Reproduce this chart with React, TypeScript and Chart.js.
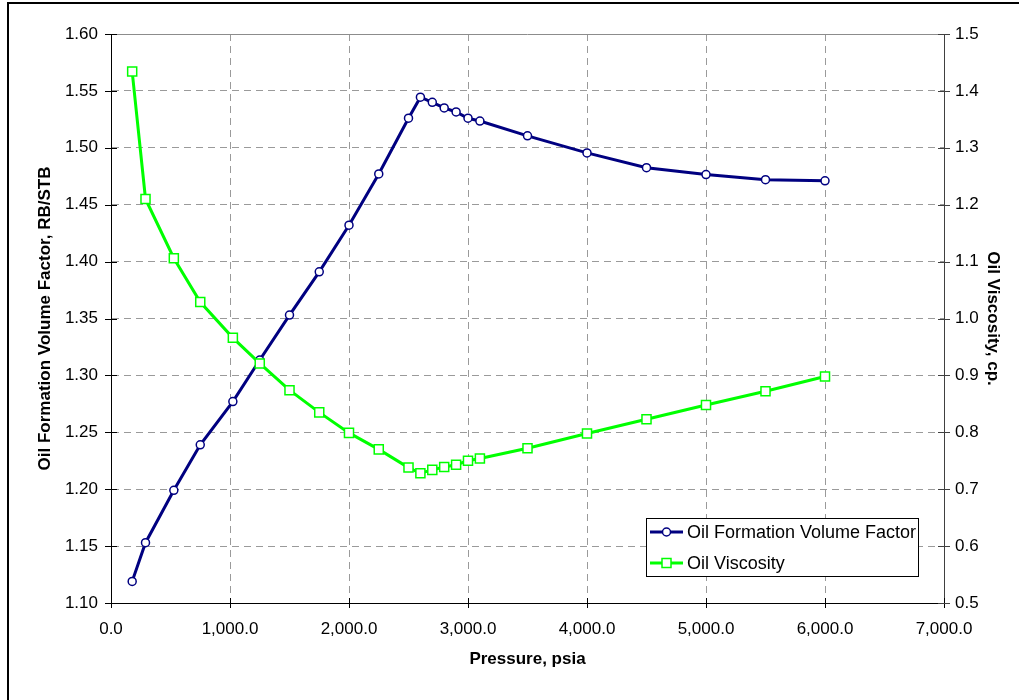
import React, { useEffect, useRef } from 'react';
import { Chart, registerables } from 'chart.js';

Chart.register(...registerables);

// ---- Data ----
const pressure = [178, 290, 528, 750, 1024, 1250, 1500, 1750, 2000, 2250, 2500, 2600, 2700, 2800, 2900, 3000, 3100, 3500, 4000, 4500, 5000, 5500, 6000];
const oilFVF = [1.119, 1.153, 1.199, 1.239, 1.277, 1.3135, 1.353, 1.391, 1.432, 1.477, 1.526, 1.5445, 1.540, 1.535, 1.5315, 1.526, 1.5235, 1.5105, 1.4955, 1.4825, 1.4765, 1.472, 1.471];
const oilViscosity = [1.434, 1.210, 1.106, 1.029, 0.966, 0.921, 0.874, 0.835, 0.799, 0.770, 0.738, 0.728, 0.734, 0.739, 0.743, 0.750, 0.754, 0.772, 0.798, 0.823, 0.848, 0.872, 0.898];
const seriesLabels = ['Oil Formation Volume Factor', 'Oil Viscosity'];
const xTitle = 'Pressure, psia';
const yLeftTitle = 'Oil Formation Volume Factor, RB/STB';
const yRightTitle = 'Oil Viscosity, cp.';
const xRange = [0, 7000, 1000];
const yLeftRange = [1.1, 1.6, 0.05];
const yRightRange = [0.5, 1.5, 0.1];

const FONT = '"Liberation Sans", Arial, Helvetica, sans-serif';
const NAVY = '#000080';
const GREEN = '#00FF00';

const framePlugin = {
  id: 'frame',
  beforeDraw(chart: any) {
    const ctx = chart.ctx;
    ctx.save();
    ctx.fillStyle = '#ffffff';
    ctx.fillRect(0, 0, chart.width, chart.height);
    ctx.fillStyle = '#000000';
    ctx.fillRect(7, 2, 2, chart.height - 2);
    ctx.fillRect(7, 2, chart.width - 7, 2);
    ctx.restore();
  },
  afterDatasetsDraw(chart: any) {
    const { ctx, chartArea: a, scales } = chart;
    ctx.save();
    ctx.setLineDash([]);
    // top border of plot area
    ctx.strokeStyle = '#8c8c8c';
    ctx.lineWidth = 1;
    ctx.beginPath();
    ctx.moveTo(a.left, Math.round(a.top) + 0.5);
    ctx.lineTo(a.right, Math.round(a.top) + 0.5);
    ctx.stroke();
    // crossing tick marks
    const tick = (x1: number, y1: number, x2: number, y2: number, color: string) => {
      ctx.strokeStyle = color;
      ctx.beginPath();
      ctx.moveTo(x1, y1);
      ctx.lineTo(x2, y2);
      ctx.stroke();
    };
    const xs = scales.x, yl = scales.y, yr = scales.y1;
    xs.ticks.forEach((t: any) => {
      const px = Math.round(xs.getPixelForValue(t.value)) + 0.5;
      tick(px, a.bottom - 5, px, a.bottom + 5, '#000000');
    });
    yl.ticks.forEach((t: any) => {
      const py = Math.round(yl.getPixelForValue(t.value)) + 0.5;
      tick(a.left - 6, py, a.left + 6, py, '#000000');
    });
    yr.ticks.forEach((t: any) => {
      const py = Math.round(yr.getPixelForValue(t.value)) + 0.5;
      tick(a.right - 6, py, a.right + 6, py, '#404040');
    });
    ctx.restore();
  },
  afterDraw(chart: any) {
    const ctx = chart.ctx;
    const box = { x: 646, y: 518, w: 272, h: 58 };
    ctx.save();
    ctx.setLineDash([]);
    ctx.fillStyle = '#ffffff';
    ctx.fillRect(box.x, box.y, box.w, box.h);
    ctx.strokeStyle = '#000000';
    ctx.lineWidth = 1;
    ctx.strokeRect(box.x + 0.5, box.y + 0.5, box.w, box.h);
    const order = [1, 0]; // dataset indices in legend order
    order.forEach((di, i) => {
      const ds = chart.data.datasets[di];
      const cy = box.y + 14 + i * 31;
      ctx.strokeStyle = ds.borderColor;
      ctx.lineWidth = 3;
      ctx.beginPath();
      ctx.moveTo(box.x + 4, cy);
      ctx.lineTo(box.x + 37, cy);
      ctx.stroke();
      const mx = box.x + 20.5;
      ctx.fillStyle = '#ffffff';
      ctx.lineWidth = 1.5;
      ctx.strokeStyle = ds.pointBorderColor;
      if (ds.pointStyle === 'circle') {
        ctx.beginPath();
        ctx.arc(mx, cy, 4, 0, Math.PI * 2);
        ctx.fill();
        ctx.stroke();
      } else {
        ctx.fillRect(mx - 4.5, cy - 4.5, 9, 9);
        ctx.strokeRect(mx - 4.5, cy - 4.5, 9, 9);
      }
      ctx.fillStyle = '#000000';
      ctx.font = `18px ${FONT}`;
      ctx.textBaseline = 'middle';
      ctx.textAlign = 'left';
      ctx.fillText(ds.label, box.x + 41, cy + 1);
    });
    ctx.restore();
  },
};

export default function App() {
  const ref = useRef<HTMLCanvasElement>(null);

  useEffect(() => {
    if (!ref.current) return;
    const tickFont = { family: FONT, size: 17 };
    const titleFont = { family: FONT, size: 17, weight: 'bold' as const };
    const chart = new Chart(ref.current, {
      type: 'line',
      data: {
        datasets: [
          {
            label: seriesLabels[1],
            data: pressure.map((p, i) => ({ x: p, y: oilViscosity[i] })),
            yAxisID: 'y1',
            borderColor: GREEN,
            borderWidth: 3,
            pointStyle: 'rect',
            pointRadius: 6.4,
            pointBackgroundColor: '#ffffff',
            pointBorderColor: GREEN,
            pointBorderWidth: 1.5,
            tension: 0,
            order: 0,
          } as any,
          {
            label: seriesLabels[0],
            data: pressure.map((p, i) => ({ x: p, y: oilFVF[i] })),
            yAxisID: 'y',
            borderColor: NAVY,
            borderWidth: 3,
            pointStyle: 'circle',
            pointRadius: 4,
            pointBackgroundColor: '#ffffff',
            pointBorderColor: NAVY,
            pointBorderWidth: 1.5,
            tension: 0,
            order: 1,
          } as any,
        ],
      },
      options: {
        responsive: false,
        animation: false,
        devicePixelRatio: 1,
        layout: { padding: { top: 34, left: 0, right: 0, bottom: 0 } },
        plugins: { legend: { display: false }, tooltip: { enabled: false } },
        scales: {
          x: {
            type: 'linear',
            position: 'bottom',
            min: xRange[0],
            max: xRange[1],
            ticks: {
              stepSize: xRange[2],
              font: tickFont,
              color: '#000000',
              padding: 10,
              maxRotation: 0,
              autoSkip: false,
              callback: (v: any) =>
                Number(v).toLocaleString('en-US', { minimumFractionDigits: 1, maximumFractionDigits: 1 }),
            },
            grid: { color: '#9a9a9a', lineWidth: 1, tickLength: 6, tickColor: 'rgba(0,0,0,0)' },
            border: { color: '#000000', width: 1, dash: [7, 5] },
            title: { display: true, text: xTitle, font: titleFont, color: '#000000', padding: { top: 0, bottom: 30 } },
            afterFit: (s: any) => { s.height = 97; },
          },
          y: {
            type: 'linear',
            position: 'left',
            min: yLeftRange[0],
            max: yLeftRange[1],
            ticks: {
              stepSize: yLeftRange[2],
              font: tickFont,
              color: '#000000',
              padding: 7,
              callback: (v: any) => Number(v).toFixed(2),
            },
            grid: { color: '#9a9a9a', lineWidth: 1, tickLength: 6, tickColor: 'rgba(0,0,0,0)' },
            border: { color: '#000000', width: 1, dash: [7, 5] },
            title: { display: true, text: yLeftTitle, font: titleFont, color: '#000000', padding: { top: 35, bottom: 0 } },
            afterFit: (s: any) => { s.width = 111; },
          },
          y1: {
            type: 'linear',
            position: 'right',
            min: yRightRange[0],
            max: yRightRange[1],
            ticks: {
              stepSize: yRightRange[2],
              font: tickFont,
              color: '#000000',
              padding: 5,
              callback: (v: any) => Number(v).toFixed(1),
            },
            grid: { drawOnChartArea: false, tickLength: 6, tickColor: 'rgba(0,0,0,0)' },
            border: { color: '#404040', width: 1 },
            title: { display: true, text: yRightTitle, font: titleFont, color: '#000000', padding: { top: 16, bottom: 0 } },
            afterFit: (s: any) => { s.width = 75; },
          },
        },
      } as any,
      plugins: [framePlugin],
    });
    return () => chart.destroy();
  }, []);

  return (
    <div style={{ position: 'fixed', left: 0, top: 0, width: 1019, height: 700, background: '#fff' }}>
      <canvas ref={ref} width={1019} height={700} style={{ display: 'block' }} />
    </div>
  );
}
